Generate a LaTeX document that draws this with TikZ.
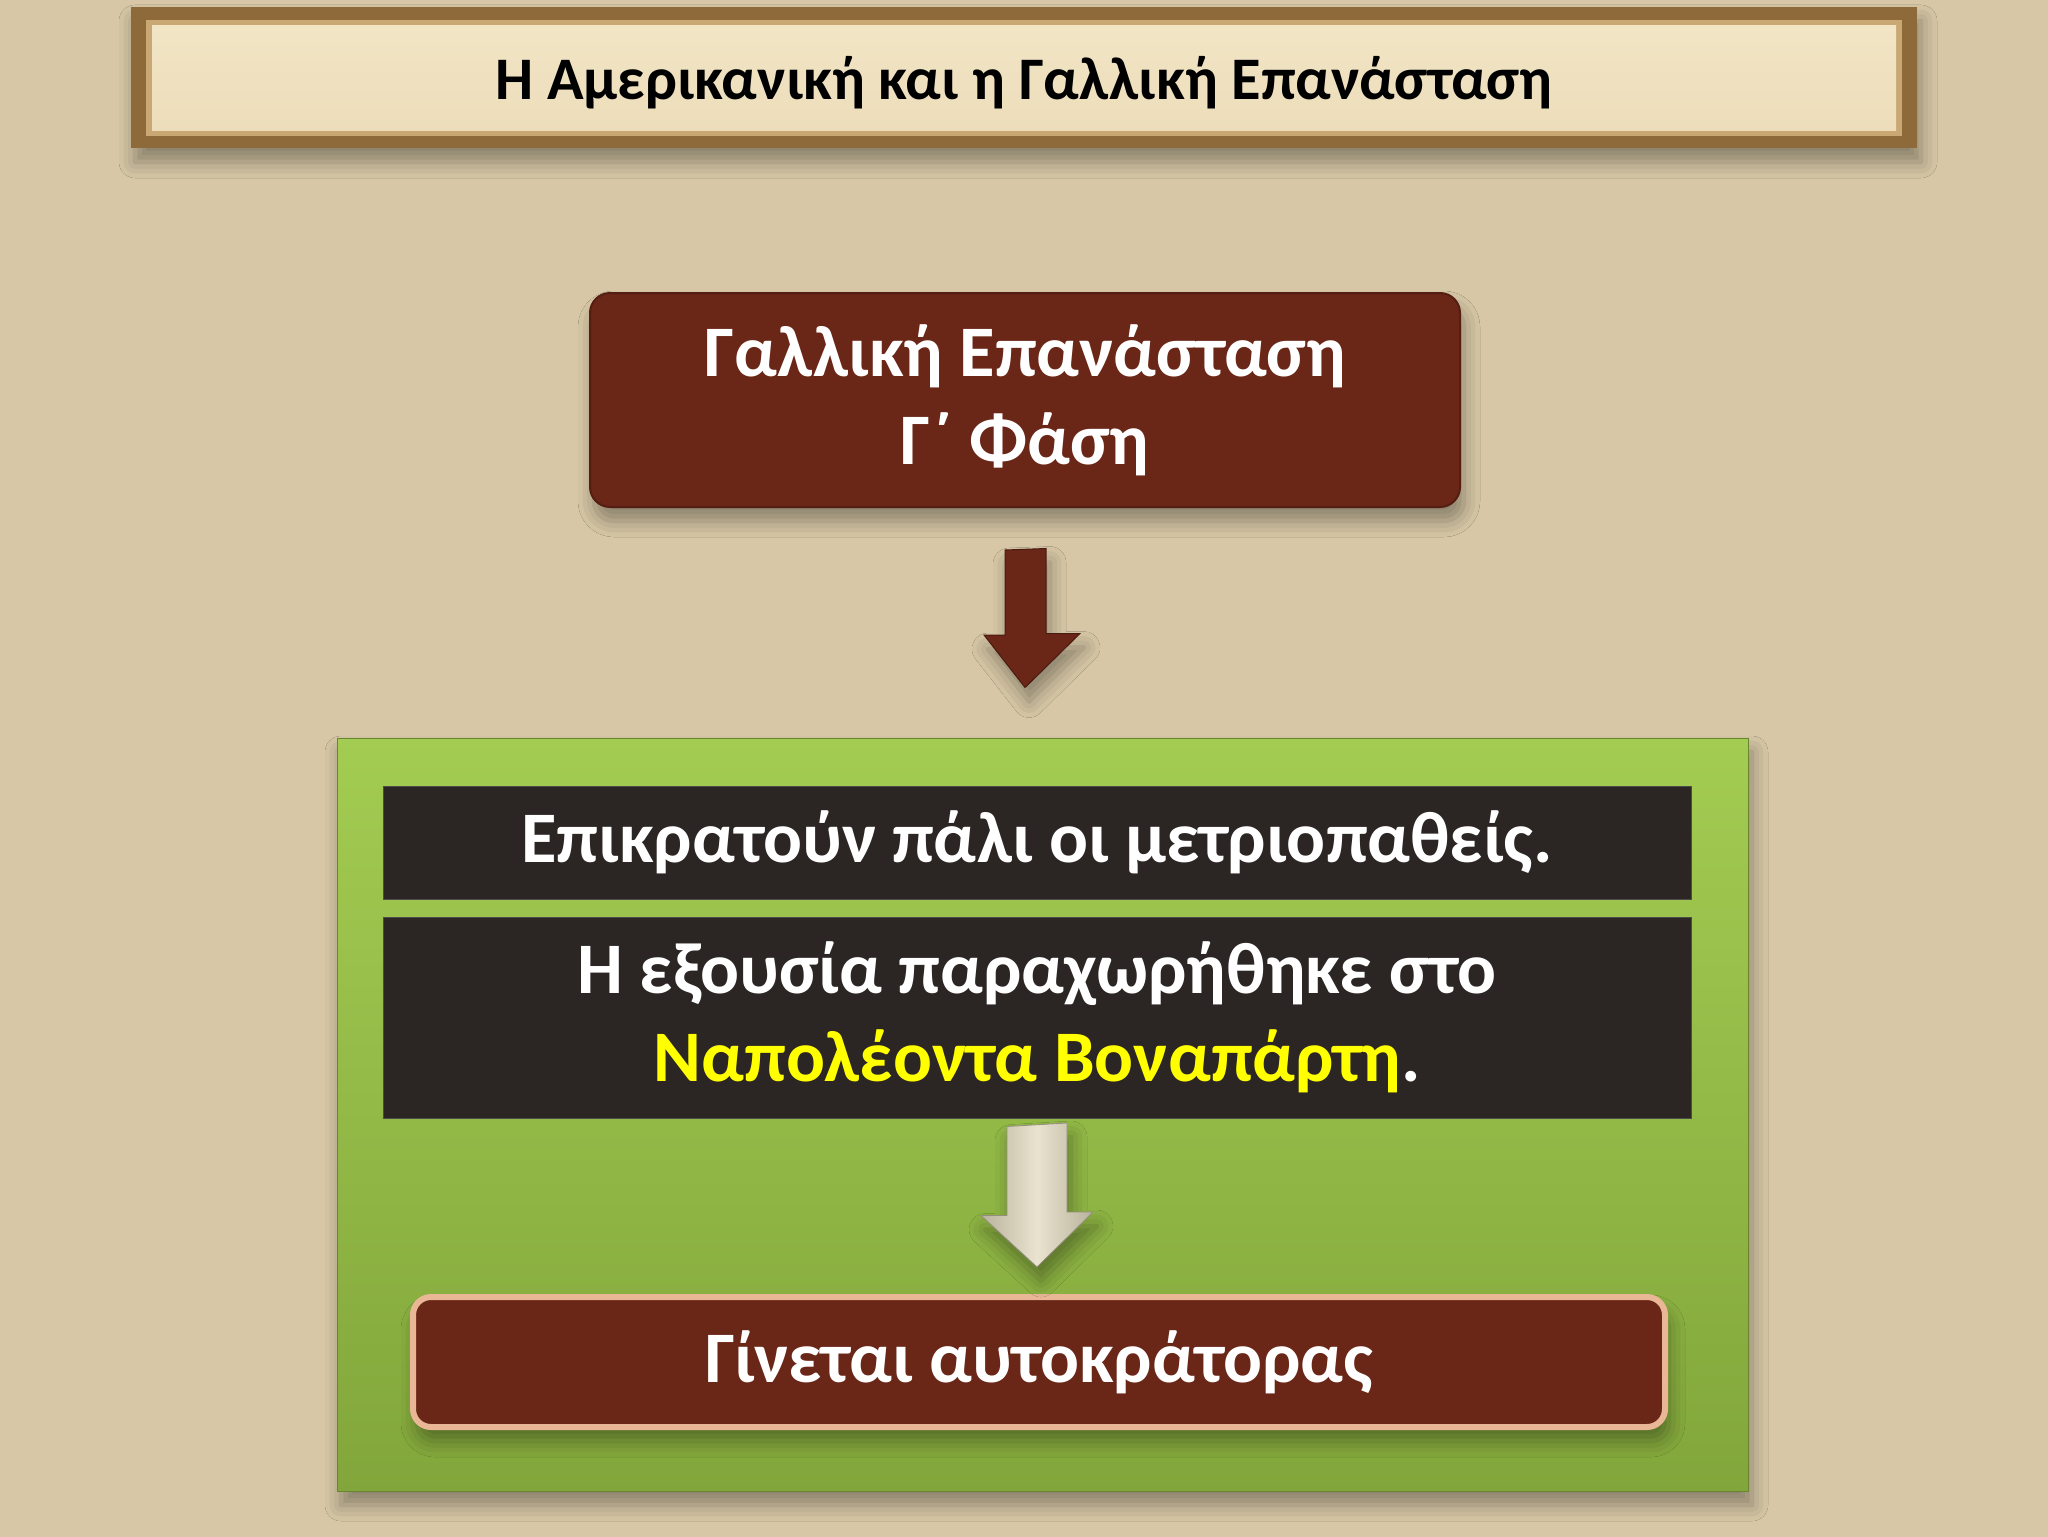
\documentclass[tikz,border=0pt]{standalone}
\usepackage{fontspec}
\setmainfont{Carlito}
\usetikzlibrary{shadows.blur,arrows.meta,calc}
\definecolor{bgcol}{HTML}{D7C7A6}
\definecolor{framecol}{HTML}{8E6A3A}
\definecolor{framelight}{HTML}{C9A874}
\definecolor{parch}{HTML}{F1E5C5}
\definecolor{brownbox}{HTML}{6A2617}
\definecolor{greentop}{HTML}{A3CC52}
\definecolor{greenbot}{HTML}{82A63B}
\definecolor{blackbox}{HTML}{2B2523}
\definecolor{yel}{HTML}{FFFF00}
\definecolor{pinkedge}{HTML}{E9B796}
\definecolor{arrowlight}{HTML}{E9E3CF}
\definecolor{arrowgray}{HTML}{B9B29C}
\tikzset{
  sh/.style={blur shadow={shadow xshift=2pt,shadow yshift=-7pt,shadow blur radius=8pt,shadow opacity=35}},
  brownstyle/.style={fill=brownbox, draw=brownbox!80!black, line width=1pt, rounded corners=10pt, inner sep=0pt, align=center, text=white, font=\bfseries\fontsize{36.3}{44}\selectfont, sh},
  blackstyle/.style={fill=blackbox, draw=black!70, line width=0.5pt, inner sep=0pt, align=center, text=white, font=\bfseries\fontsize{36.3}{44}\selectfont},
  greenstyle/.style={top color=greentop, bottom color=greenbot, draw=greenbot!80!black, line width=0.5pt, inner sep=0pt, sh},
  bottomstyle/.style={fill=brownbox, draw=pinkedge, line width=3pt, rounded corners=9pt, inner sep=0pt, align=center, text=white, font=\bfseries\fontsize{36.3}{44}\selectfont, sh},
}
\begin{document}
\begin{tikzpicture}[x=0.5pt,y=-0.5pt]
\useasboundingbox (0,0) rectangle (2048,1536);
\fill[bgcol] (-5,-5) rectangle (2053,1541);
% title banner
\node[sh, fill=framecol, minimum width=893pt, minimum height=70.5pt, inner sep=0pt] (frame) at (1024,77.5) {};
\node[fill=framelight, minimum width=878pt, minimum height=58pt, inner sep=0pt] (frameinner) at (1024,78) {};
\node[top color=parch, bottom color=parch!92!brown, minimum width=872pt, minimum height=52pt, inner sep=0pt] (title) at (1024,78) {};
\node[font=\bfseries\fontsize{30.2}{32}\selectfont, text=black] (titletext) at (1024,83) {Η Αμερικανική και η Γαλλική Επανάσταση};
% top brown box
\node[brownstyle, minimum width=435pt, minimum height=107pt] (top) at (1025,400) {Γαλλική Επανάσταση\\Γ΄ Φάση};
% green box
\node[greenstyle, minimum width=705.5pt, minimum height=376.5pt] (green) at (1042.5,1114.5) {};
% black boxes
\node[blackstyle, minimum width=654pt, minimum height=56.5pt] (b1) at (1037,842.5) {Επικρατούν πάλι οι μετριοπαθείς.};
\node[blackstyle, minimum width=654pt, minimum height=100.5pt] (b2) at (1037,1017.5) {Η εξουσία παραχωρήθηκε στο\\\textcolor{yel}{Ναπολέοντα Βοναπάρτη}.};
% bottom box
\node[bottomstyle, minimum width=626pt, minimum height=65pt] (bot) at (1039,1362) {Γίνεται αυτοκράτορας};
% dark red arrow
\path[fill=brownbox, draw=brownbox!70!black, line width=0.5pt, sh]
  ([xshift=-10pt,yshift=-21pt]top.south) -- ++(0,85) -- ++(-21,0) -- ([yshift=25pt]green.north -| top.south) -- ++(55,-54) -- ++(-34,0) -- ++(0,-85) -- cycle;
% light arrow
\path[left color=arrowgray, right color=arrowgray, middle color=arrowlight, draw=arrowgray!80!black, line width=0.4pt, sh]
  ([xshift=-15pt,yshift=-4pt]b2.south) -- ++(0,89) -- ++(-26,0) -- ([yshift=13.5pt]bot.north -| b2.south) -- ++(56,-55) -- ++(-26,0) -- ++(0,-89) -- cycle;
\end{tikzpicture}
\end{document}
